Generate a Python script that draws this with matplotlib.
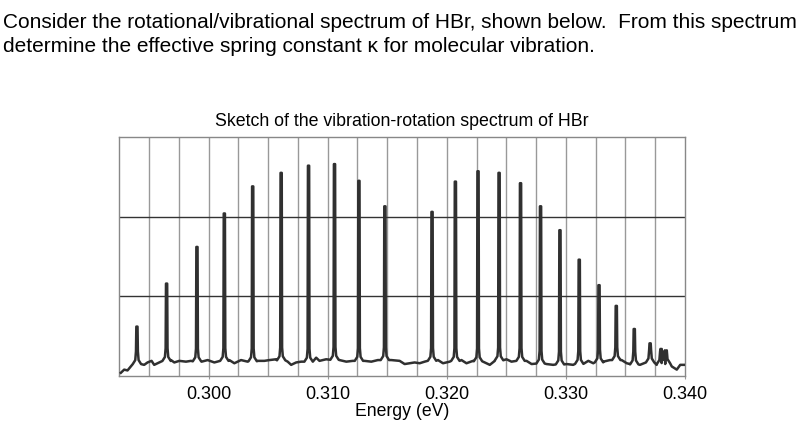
import matplotlib
matplotlib.use("Agg")
import matplotlib.pyplot as plt
import numpy as np

plt.rcParams['font.family'] = ['Liberation Sans', 'DejaVu Sans']

# ---- data ----
peak_energy = [0.29398, 0.29647, 0.29902, 0.30132, 0.30370, 0.30609, 0.30839,
               0.31057, 0.31262, 0.31480,
               0.31876, 0.32072, 0.32262, 0.32439, 0.32619, 0.32787, 0.32950,
               0.33112, 0.33278, 0.33423, 0.33574, 0.33707, 0.33799, 0.33839]
peak_height = [0.62, 1.16, 1.62, 2.04, 2.38, 2.55, 2.64, 2.66, 2.45, 2.13,
               2.06, 2.44, 2.57, 2.55, 2.42, 2.13, 1.83, 1.46, 1.14, 0.88,
               0.59, 0.41, 0.34, 0.30]

base_energy = [0.29263, 0.29291, 0.29319, 0.29347, 0.29369, 0.29431, 0.29459,
               0.29487, 0.29521, 0.29543, 0.29585, 0.29684, 0.29712, 0.29754,
               0.29810, 0.29852, 0.29941, 0.29992, 0.30048, 0.30174, 0.30216,
               0.30272, 0.30328, 0.30412, 0.30468, 0.30511, 0.30567, 0.30664,
               0.30693, 0.30735, 0.30777, 0.30875, 0.30903, 0.30931, 0.30987,
               0.31099, 0.31156, 0.31211, 0.31309, 0.31366, 0.31421, 0.31534,
               0.31604, 0.31646, 0.31688, 0.31730, 0.31772, 0.31814, 0.31926,
               0.31968, 0.32024, 0.32123, 0.32165, 0.32220, 0.32304, 0.32361,
               0.32403, 0.32501, 0.32543, 0.32599, 0.32669, 0.32712, 0.32754,
               0.32838, 0.32893, 0.33006, 0.33061, 0.33145, 0.33188, 0.33230,
               0.33314, 0.33370, 0.33468, 0.33511, 0.33538, 0.33622, 0.33679,
               0.33734, 0.33762, 0.33866, 0.33889, 0.33931, 0.33960, 0.33993]
base_level = [0.04, 0.08, 0.07, 0.12, 0.14, 0.16, 0.14,
              0.17, 0.19, 0.14, 0.17, 0.20, 0.17, 0.19,
              0.18, 0.19, 0.18, 0.20, 0.17, 0.20, 0.16,
              0.20, 0.18, 0.19, 0.19, 0.20, 0.21, 0.18,
              0.14, 0.17, 0.18, 0.18, 0.23, 0.19, 0.21,
              0.20, 0.18, 0.19, 0.19, 0.18, 0.20, 0.20,
              0.19, 0.15, 0.16, 0.17, 0.16, 0.18, 0.20,
              0.16, 0.18, 0.20, 0.16, 0.19, 0.18, 0.14,
              0.19, 0.21, 0.18, 0.19, 0.19, 0.15, 0.16,
              0.15, 0.14, 0.15, 0.14, 0.16, 0.19, 0.16,
              0.18, 0.20, 0.20, 0.16, 0.15, 0.14, 0.16,
              0.18, 0.14, 0.17, 0.12, 0.08, 0.14, 0.14]

x_ticks = [0.300, 0.310, 0.320, 0.330, 0.340]
x_ticklabels = ["0.300", "0.310", "0.320", "0.330", "0.340"]

# ---- build the trace: baseline points plus a spike at each peak ----
be = np.array(base_energy)
bl = np.array(base_level)
# spike profile: (half-width in eV, rise above baseline as fraction / absolute)
offsets = [0.00035, 0.00014, 0.00008, 0.00005]
pts = []
for e, v in zip(base_energy, base_level):
    if all(abs(e - c) >= offsets[0] for c in peak_energy):
        pts.append((e, v))
for c, h in zip(peak_energy, peak_height):
    b = float(np.interp(c, be, bl))
    rise = [b, b + 0.05, b + 0.16, h]
    for d, r in zip(offsets, rise):
        pts.append((c - d, r))
        pts.append((c + d, r))
pts.sort()
xs, ys = zip(*pts)

fig = plt.figure(figsize=(8.05, 4.29), dpi=100)
ax = fig.add_axes([119.3 / 805, 1 - 376 / 429, (685 - 119.3) / 805, (376 - 137) / 429])

ax.set_xlim(0.2925, 0.340)
ax.set_ylim(0, 3)
for gx in np.arange(0.2950, 0.3399, 0.0025):
    ax.axvline(gx, color='#999999', lw=1.0, zorder=1)
for gy in (1, 2):
    ax.axhline(gy, color='#333333', lw=1.0, zorder=1)

ax.plot(xs, ys, color='#303030', lw=1.8, solid_joinstyle='round', zorder=3)

ax.set_xticks(x_ticks)
ax.set_xticklabels(x_ticklabels, fontsize=13)
ax.set_yticks([])
ax.tick_params(axis='x', length=2, color='#999999', pad=5)
for s in ax.spines.values():
    s.set_color('#888888')
    s.set_linewidth(1.0)

ax.set_xlabel("Energy (eV)", fontsize=12.7, labelpad=0)
ax.set_title("Sketch of the vibration-rotation spectrum of HBr", fontsize=12.8, pad=8)

fig.text(3 / 805, 1 - 22 / 429,
         "Consider the rotational/vibrational spectrum of HBr, shown below.  From this spectrum",
         fontsize=15, va='center', ha='left')
fig.text(3 / 805, 1 - 46 / 429,
         "determine the effective spring constant \u03ba for molecular vibration.",
         fontsize=15, va='center', ha='left')

fig.savefig("out.png", dpi=100)
